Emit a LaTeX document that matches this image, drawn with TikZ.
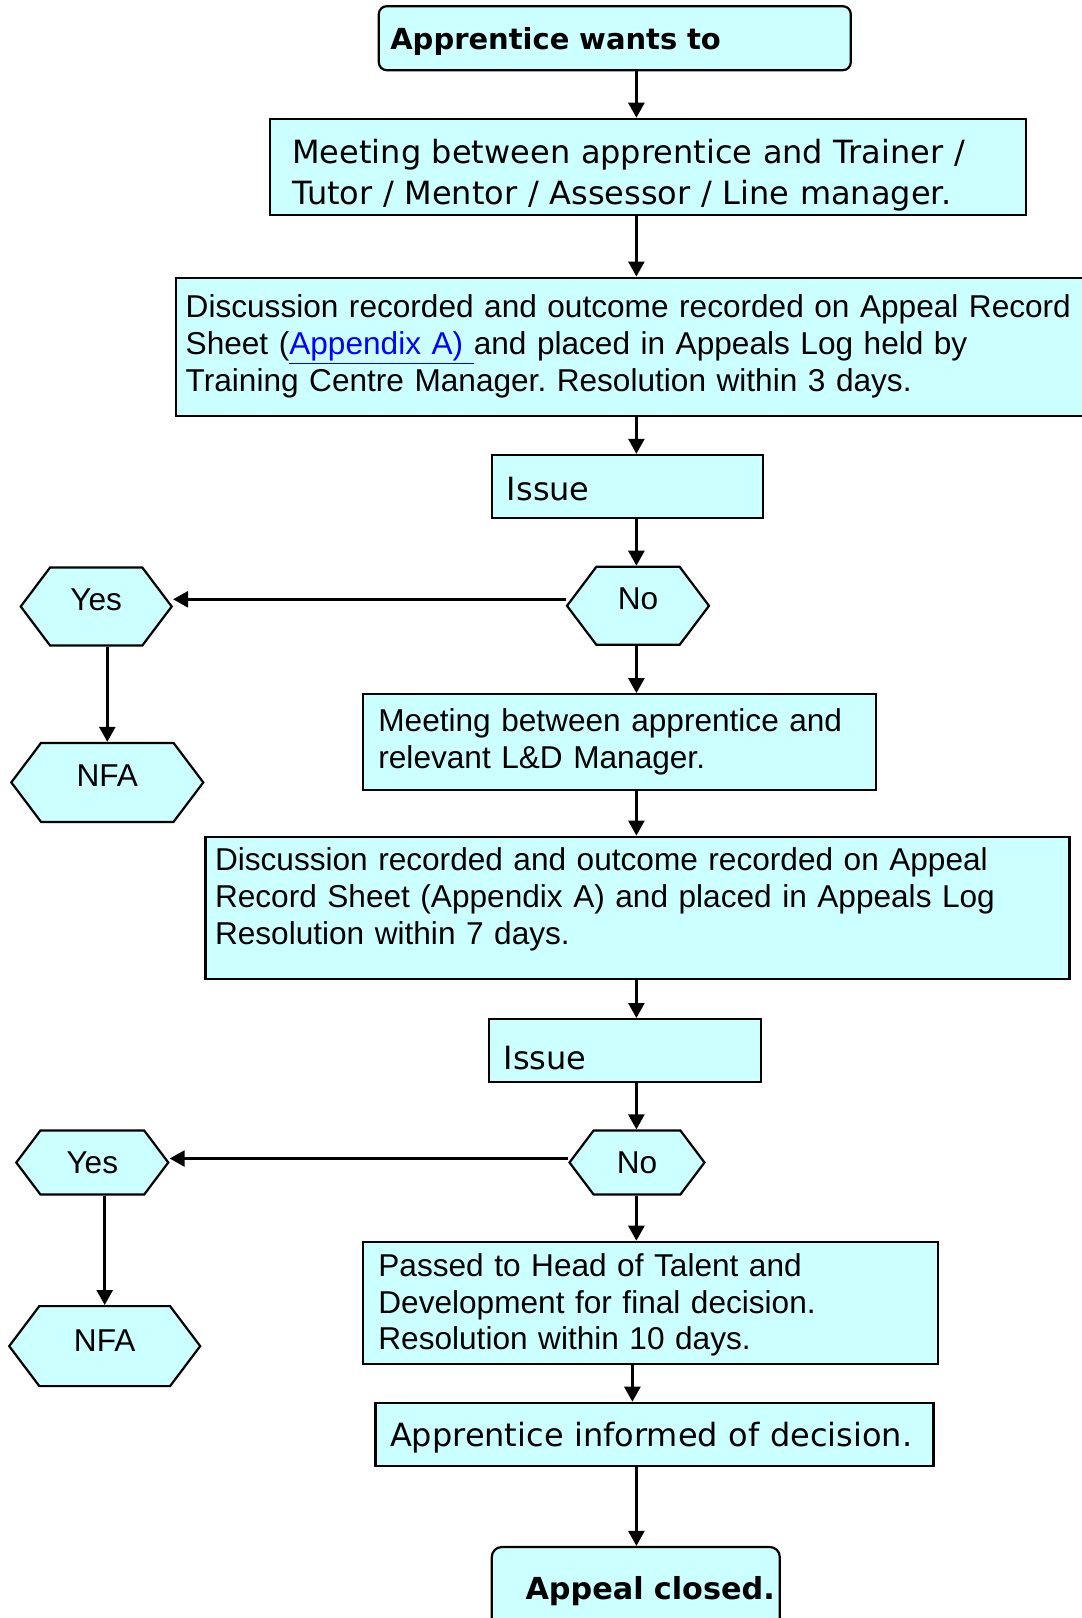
\documentclass[tikz,border=0pt]{standalone}
\usepackage{fontspec}
\setmainfont{Liberation Sans}
\newfontfamily\verdana{DejaVu Sans}[WordSpace=1.1]
\usetikzlibrary{arrows.meta,shapes.symbols}
\frenchspacing

\definecolor{boxcyan}{RGB}{204,255,255}
\definecolor{linkblue}{RGB}{0,0,255}

\tikzset{
  box/.style={draw, line width=2.2pt, fill=boxcyan, align=left, inner ysep=0pt},
  hexa/.style={draw, line width=2.2pt, fill=boxcyan, signal, signal to=west and east,
    signal pointer angle=106, inner sep=0pt, text height=23pt, font=\fontsize{31.6}{36.8}\selectfont},
  arr/.style={line width=2.6pt, -{Triangle[width=16pt,length=15pt]}},
  verd/.style={font=\verdana\fontsize{32}{41}\selectfont},
  verdbold/.style={font=\verdana\bfseries\fontsize{29}{35}\selectfont},
  arial/.style={font=\fontsize{31.6}{36.8}\selectfont}
}

\begin{document}
\begin{tikzpicture}[x=1pt,y=-1pt]
\useasboundingbox (0,0) rectangle (1082,1618);
\coordinate (spine) at (636.4,0);

 % main column
\node[box, verdbold, rounded corners=8pt, minimum width=472pt, minimum height=64pt, inner xsep=11.4pt, text width=449pt, text height=28.5pt] (start) at (614.8,38.2) {Apprentice wants to};
\node[box, verd, minimum width=756pt, minimum height=96pt, inner xsep=22pt, text width=712pt, text height=41pt] (meet1) at (648.3,166.8) {Meeting between apprentice and Trainer /\\Tutor / Mentor / Assessor / Line manager.};
\node[box, arial, minimum width=924pt, minimum height=138pt, inner xsep=9.3pt, text width=905pt] (disc1) at (638.2,346.6) {Discussion recorded and outcome recorded on Appeal Record\\Sheet (\textcolor{linkblue}{\underline{Appendix A)\ }}and placed in Appeals Log held by\\Training Centre Manager. Resolution within 3 days.};
\node[box, verd, minimum width=271pt, minimum height=63pt, inner xsep=15pt, text width=241pt, text height=29pt] (issue1) at (627.4,486.4) {Issue};
\node[hexa, minimum width=142pt, minimum height=78pt, text depth=15pt] (no1) at (638,605.8) {No};
\node[box, arial, minimum width=513pt, minimum height=96pt, inner xsep=15.5pt, text width=482pt] (meet2) at (619.4,742.2) {Meeting between apprentice and\\relevant L\&D Manager.};
\node[box, arial, minimum width=864pt, minimum height=142pt, inner xsep=9.3pt, text width=845pt] (disc2) at (637.5,907.7) {Discussion recorded and outcome recorded on Appeal\\Record Sheet (Appendix A) and placed in Appeals Log\\Resolution within 7 days.\\[-14pt]\mbox{}};
\node[box, verd, minimum width=272pt, minimum height=63pt, inner xsep=14.4pt, text width=243pt, text height=37.5pt] (issue2) at (625.1,1050.6) {Issue};
\node[hexa, minimum width=135pt, minimum height=64pt] (no2) at (637,1162.5) {No};
\node[box, arial, minimum width=575pt, minimum height=122pt, inner xsep=15.5pt, text width=544pt, text height=27pt] (pass) at (650.4,1302.8) {Passed to Head of Talent and\\Development for final decision.\\Resolution within 10 days.};
\node[box, verd, minimum width=558pt, minimum height=63pt, inner xsep=14.4pt, text width=529pt, text height=32pt] (told) at (654.5,1434.3) {Apprentice informed of decision.};
\node[box, verdbold, font=\verdana\bfseries\fontsize{30.3}{35}\selectfont, align=right, rounded corners=10pt, minimum width=288pt, minimum height=88pt, inner xsep=5pt, text width=278pt] (closed) at (635.8,1591) {Appeal closed.};

 % side branch
\node[hexa, minimum width=151pt, minimum height=78pt, text depth=15pt] (yes1) at (96.2,606.5) {Yes};
\node[hexa, minimum width=192pt, minimum height=79pt, text depth=15pt] (nfa1) at (107.3,782.4) {NFA};
\node[hexa, minimum width=152pt, minimum height=64pt] (yes2) at (92.3,1162.5) {Yes};
\node[hexa, minimum width=191pt, minimum height=80pt, text depth=12pt] (nfa2) at (104.7,1346.1) {NFA};

 % arrows
\draw[arr] (start.south -| spine) -- (meet1.north -| spine);
\draw[arr] (meet1.south -| spine) -- (disc1.north -| spine);
\draw[arr] (disc1.south -| spine) -- (issue1.north -| spine);
\draw[arr] (issue1.south -| spine) -- (no1.north -| spine);
\draw[arr] ([yshift=6.5pt]no1.west) -- ([yshift=6.5pt]no1.west -| yes1.east);
\draw[arr] (nfa1.north |- yes1.south) -- (nfa1.north);
\draw[arr] (no1.south -| spine) -- (meet2.north -| spine);
\draw[arr] (meet2.south -| spine) -- (disc2.north -| spine);
\draw[arr] (disc2.south -| spine) -- (issue2.north -| spine);
\draw[arr] (issue2.south -| spine) -- (no2.north -| spine);
\draw[arr] ([yshift=4pt]no2.west) -- ([yshift=4pt]no2.west -| yes2.east);
\draw[arr] (nfa2.north |- yes2.south) -- (nfa2.north);
\draw[arr] (no2.south -| spine) -- (pass.north -| spine);
\draw[arr] ([xshift=-4pt]pass.south -| spine) -- ([xshift=-4pt]told.north -| spine);
\draw[arr] (told.south -| spine) -- (closed.north -| spine);
\end{tikzpicture}
\end{document}
